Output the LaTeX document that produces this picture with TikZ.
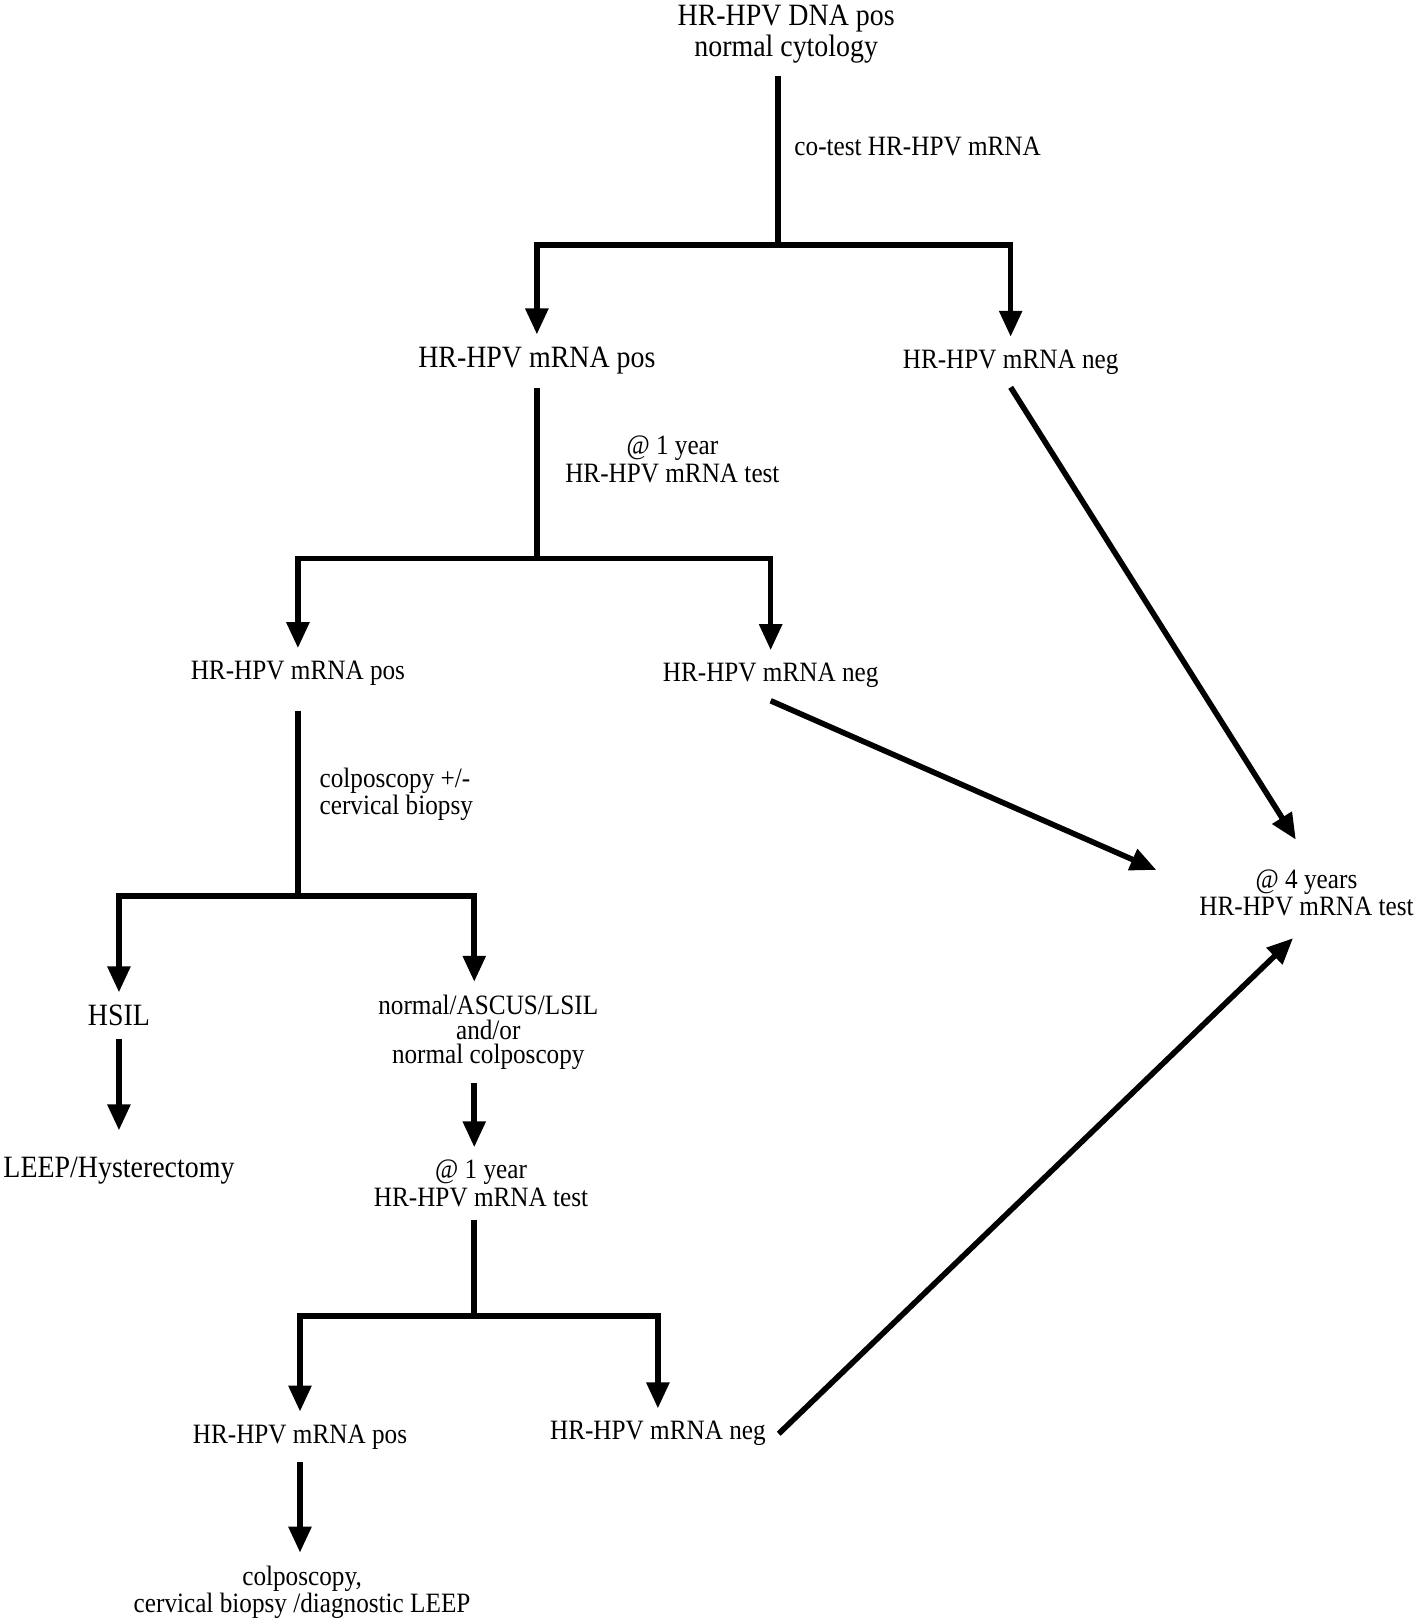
\documentclass[tikz,border=0pt]{standalone}
\usepackage{fontspec}
\setmainfont{Liberation Serif}[FakeStretch=0.9]
\usetikzlibrary{arrows.meta}
\begin{document}
\begin{tikzpicture}[x=0.51715pt,y=-0.51715pt,
  big/.style={font=\fontsize{15.5}{15.5}\selectfont, align=center, inner sep=0pt, outer sep=6.5pt},
  mid/.style={font=\fontsize{14}{13.6}\selectfont, align=center, inner sep=0pt, outer sep=6.5pt},
  ln/.style={line width=2.8pt},
  arr/.style={line width=2.8pt, -{Triangle[width=11pt,length=13pt]}}]
\useasboundingbox (0,0) rectangle (1371,1568);
% nodes
\node[big] (top) at (760,33) {HR-HPV DNA pos\\normal cytology};
\node[mid, anchor=west, outer sep=0pt] (cotest) at (768,142) {co-test HR-HPV mRNA};
\node[big] (pos1) at (519,349) {HR-HPV mRNA pos};
\node[mid] (neg1) at (977,350) {HR-HPV mRNA neg};
\node[mid, outer sep=0pt] (yr1) at (650,444) {@ 1 year\\HR-HPV mRNA test};
\node[mid] (pos2) at (288,651) {HR-HPV mRNA pos};
\node[mid] (neg2) at (745,653) {HR-HPV mRNA neg};
\node[mid] (four) at (1263,863) {@ 4 years\\HR-HPV mRNA test};
\node[mid, align=left, anchor=west, outer sep=0pt] (colp) at (309,768) {colposcopy +/-\\cervical biopsy};
\node[big] (hsil) at (115,982) {HSIL};
\node[mid, font=\fontsize{14}{12.4}\selectfont] (norm) at (472,998) {normal/ASCUS/LSIL\\and/or\\normal colposcopy};
\node[big] (leep) at (115,1132) {LEEP/Hysterectomy};
\node[mid] (yr2) at (465,1144) {@ 1 year\\HR-HPV mRNA test};
\node[mid] (pos3) at (290,1389) {HR-HPV mRNA pos};
\node[mid] (neg3) at (636,1386) {HR-HPV mRNA neg};
\node[mid] (final) at (292,1539) {colposcopy,\\cervical biopsy /diagnostic LEEP};
% junctions
\coordinate (j1) at (752,237);
\coordinate (j2) at (519,540);
\coordinate (j3) at (288,866);
\coordinate (j4) at (458,1272);
% tree connectors
\draw[ln] (top.south -| j1) -- (j1);
\draw[arr] (j1) -| (pos1.north);
\draw[arr] (j1) -| (neg1.north);
\draw[ln] (pos1.south) -- (j2);
\draw[arr] (j2) -| (pos2.north);
\draw[arr] (j2) -| (neg2.north);
\draw[ln, shorten <=6pt] (pos2.south) -- (j3);
\draw[arr] (j3) -| (hsil.north);
\draw[arr] (j3) -| ([xshift=-7pt]norm.north);
\draw[arr, shorten >=7pt] (hsil.south) -- (leep.north);
\draw[arr] ([xshift=-7pt]norm.south) -- ([xshift=-7pt]norm.south |- yr2.north);
\draw[ln] (yr2.south -| j4) -- (j4);
\draw[arr] (j4) -| (pos3.north);
\draw[arr] (j4) -| (neg3.north);
\draw[arr] (pos3.south) -- (pos3.south |- final.north);
% diagonal connectors
\draw[arr, shorten >=10pt] (neg1.south) -- (four.north);
\draw[arr] (neg2.south) -- ([shift={(-29,-22)}]four.west);
\draw[arr] (neg3.east) -- ([shift={(-13,9)}]four.south);
\end{tikzpicture}
\end{document}
